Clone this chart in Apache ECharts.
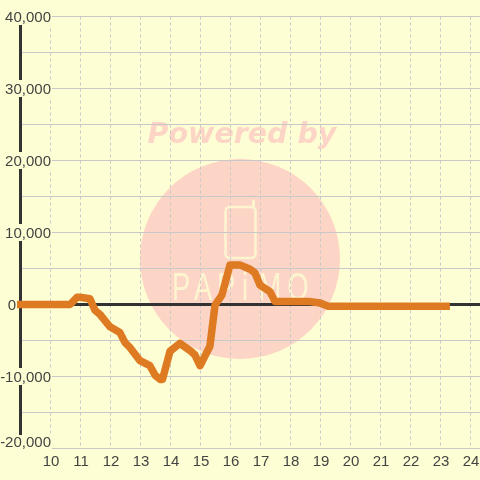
<!DOCTYPE html>
<html><head><meta charset="utf-8">
<style>html,body{margin:0;padding:0;background:#fdfed3}#c{width:480px;height:480px}</style>
<script src="https://cdn.jsdelivr.net/npm/echarts@6/dist/echarts.min.js"></script>
</head><body><div id="c"></div>
<script>
const hours=[8.9,10.67,10.9,11,11.33,11.5,11.67,12,12.33,12.5,12.67,13,13.33,13.5,13.67,13.75,14,14.33,14.67,14.83,15,15.33,15.5,15.73,16,16.33,16.67,16.83,17,17.33,17.5,18.67,19,19.27,23.33];
const values=[0,0,1000,1000,800,-800,-1400,-3100,-3900,-5300,-6000,-7800,-8500,-9800,-10400,-10400,-6500,-5400,-6400,-7000,-8500,-5800,-100,1300,5500,5500,4900,4400,2700,1800,400,400,200,-250,-250];
const zeroHours=[9,25];
const zeroValues=[0,0];
const logoLetters=['P','A','P','i','M','O'];
const logoX=[181,203,226,245,270,298];
const bg='#fdfed3', grid='#c8c8c8', ink='#444', orange='#dd7a22', cream='#fdf4d0';
const chart=echarts.init(document.getElementById('c'),null,{renderer:'canvas'});
chart.setOption({
 animation:false,backgroundColor:bg,
 grid:{left:20,right:-20,top:16.5,bottom:31.5,outerBoundsMode:'none',containLabel:false},
 xAxis:{type:'value',min:9,max:25,interval:1,axisLine:{onZero:false,show:false},axisTick:{show:false},
  axisLabel:{color:ink,fontSize:15,fontFamily:'Liberation Sans',margin:6,padding:[0,0,0,2],showMinLabel:false,showMaxLabel:false,hideOverlap:false},
  splitLine:{show:true,lineStyle:{color:grid,type:[3,3],width:1}}},
 yAxis:{type:'value',min:-20000,max:40000,interval:5000,
  axisLine:{show:true,onZero:false,lineStyle:{color:'#333',width:3}},axisTick:{show:false},
  axisLabel:{margin:-32,align:'right',color:ink,fontSize:15,fontFamily:'Liberation Sans',
   formatter:v=>v===0?'{z|0}':(v===-20000?'{b|-20,000}':(v%10000===0?'{a|'+v.toLocaleString('en-US')+'}':'')),
   rich:{a:{backgroundColor:bg,color:ink,fontSize:15,fontFamily:'Liberation Sans',padding:[2,1,0,2]},
         b:{backgroundColor:bg,color:ink,fontSize:15,fontFamily:'Liberation Sans',padding:[0,1,12,2]},
         z:{color:ink,fontSize:15,fontFamily:'Liberation Sans',padding:[2,36,0,0]}}},
  splitLine:{show:true,lineStyle:{color:grid,width:1}}},
 graphic:[
  {type:'circle',z:-10,silent:true,shape:{cx:240,cy:259,r:100},style:{fill:'#fcd5c6'}},
  {type:'text',z:-9,silent:true,x:242,y:136,style:{text:'Powered by',font:'italic bold 28.5px "DejaVu Sans"',fill:'#fcd5c6',align:'center',verticalAlign:'middle'}},
  {type:'rect',z:-9,silent:true,shape:{x:225.5,y:207,width:30,height:51,r:4},style:{fill:'none',stroke:cream,lineWidth:2.5}},
  {type:'line',z:-9,silent:true,shape:{x1:253.5,y1:207,x2:253.5,y2:201},style:{stroke:cream,lineWidth:3,lineCap:'round'}}
 ].concat(logoLetters.map((t,i)=>({type:'text',z:-9,silent:true,x:logoX[i],y:290,scaleX:0.72,style:{text:t,font:'38px "Liberation Sans"',fill:cream,align:'center',verticalAlign:'middle'}}))),
 series:[
  {type:'line',z:1,data:zeroHours.map((h,i)=>[h,zeroValues[i]]),showSymbol:false,silent:true,lineStyle:{color:'#333',width:3}},
  {type:'line',z:3,data:hours.map((h,i)=>[h,values[i]]),showSymbol:false,clip:false,
  lineStyle:{color:orange,width:7.5,cap:'butt',join:'round'}}]
});
</script></body></html>
